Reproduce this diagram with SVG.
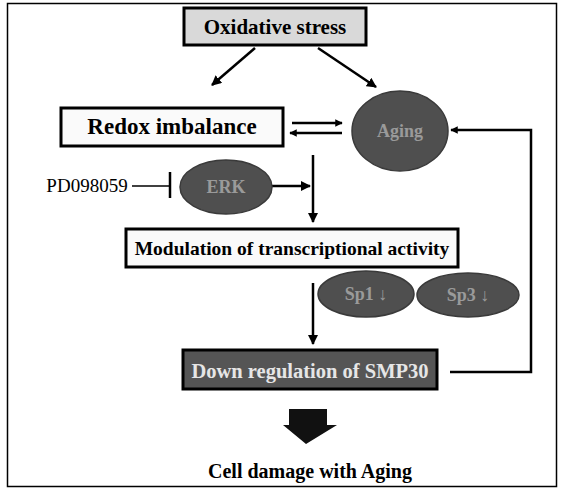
<svg xmlns="http://www.w3.org/2000/svg" width="562" height="489" viewBox="0 0 562 489">
<defs>
<marker id="ah" viewBox="0 0 10 10" refX="9" refY="5" markerWidth="4" markerHeight="4" orient="auto" markerUnits="strokeWidth">
<path d="M0,0 L10,5 L0,10 z" fill="#000"/>
</marker>
<marker id="ahs" viewBox="0 0 10 10" refX="9" refY="5" markerWidth="3" markerHeight="3" orient="auto" markerUnits="strokeWidth">
<path d="M0,0 L10,5 L0,10 z" fill="#000"/>
</marker>
</defs>
<style>
.t{font-family:"Liberation Serif","Times New Roman",serif;font-weight:bold;text-anchor:middle}
.box{stroke:#000;stroke-width:3}
.ell{fill:#4f4f4f;stroke:#3a3a3a;stroke-width:1.5}
.et{fill:#9a9a9a;font-size:18px}
.c{fill:none;stroke:#000;stroke-width:2.5}
</style>
<rect x="7.5" y="3.5" width="549" height="483" fill="#fff" stroke="#000" stroke-width="1.5"/>

<g id="connectors">
<line class="c" x1="255" y1="48" x2="212" y2="85" marker-end="url(#ah)"/>
<line class="c" x1="318" y1="48" x2="376" y2="87" marker-end="url(#ah)"/>
<line class="c" x1="292" y1="123" x2="342" y2="123" stroke-width="3.5" marker-end="url(#ahs)"/>
<line class="c" x1="342" y1="133" x2="290" y2="133" stroke-width="3.5" marker-end="url(#ahs)"/>
<line class="c" x1="313" y1="155" x2="313" y2="222" marker-end="url(#ah)"/>
<line class="c" x1="272" y1="186" x2="310" y2="186" marker-end="url(#ah)"/>
<line x1="132" y1="186" x2="169" y2="186" stroke="#000" stroke-width="1.5"/>
<line x1="170" y1="172" x2="170" y2="198" stroke="#000" stroke-width="2.5"/>
<line class="c" x1="313" y1="283" x2="313" y2="344" marker-end="url(#ah)"/>
<polyline class="c" points="450,372 531,372 531,130 451,130" marker-end="url(#ahs)"/>
<path d="M289,409 H327 V425 H337 L306,444 L283,425 H289 Z" fill="#111"/>
</g>

<g id="oxidative-stress">
<rect class="box" x="184" y="8" width="182" height="37" fill="#d9d9d9"/>
<text class="t" x="275" y="34" font-size="21">Oxidative stress</text>
</g>

<g id="redox-imbalance">
<rect class="box" x="61" y="108" width="222" height="38" fill="#fafafa"/>
<text class="t" x="172" y="134" font-size="23">Redox imbalance</text>
</g>

<g id="aging">
<ellipse class="ell" cx="400" cy="131" rx="48" ry="40"/>
<text class="t et" x="400" y="137">Aging</text>
</g>

<g id="pd098059">
<text x="87" y="192" font-family="Liberation Serif, Times New Roman, serif" font-size="19" text-anchor="middle">PD098059</text>
</g>

<g id="erk">
<ellipse class="ell" cx="226" cy="187" rx="46" ry="27"/>
<text class="t et" x="226" y="193">ERK</text>
</g>

<g id="modulation">
<rect class="box" x="126" y="229" width="332" height="38" fill="#fafafa"/>
<text class="t" x="292" y="255" font-size="19.5">Modulation of transcriptional activity</text>
</g>

<g id="sp1">
<ellipse class="ell" cx="366" cy="294" rx="48" ry="23"/>
<text class="t et" x="366" y="300">Sp1 ↓</text>
</g>

<g id="sp3">
<ellipse class="ell" cx="468" cy="295" rx="51" ry="22"/>
<text class="t et" x="468" y="301">Sp3 ↓</text>
</g>

<g id="down-regulation">
<rect class="box" x="183" y="350" width="254" height="39" fill="#555"/>
<text class="t" x="310" y="378" font-size="20.5" fill="#e6e6e6">Down regulation of SMP30</text>
</g>

<g id="cell-damage">
<text class="t" x="310" y="478" font-size="20">Cell damage with Aging</text>
</g>
</svg>
